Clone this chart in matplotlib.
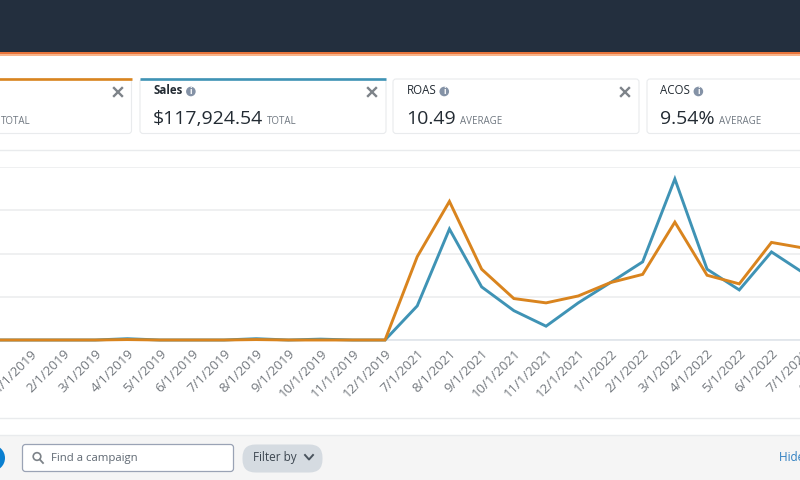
import matplotlib
matplotlib.use("Agg")
import matplotlib.pyplot as plt
from matplotlib.patches import FancyBboxPatch, Rectangle, Circle
from matplotlib.transforms import ScaledTranslation

plt.rcParams['font.family'] = ['Open Sans', 'DejaVu Sans']

# chart values, one gridline step = 1 unit (axis labels are cut off in the screenshot)
# first point sits just left of the picture, so it gets no label
months = ["", "1/1/2019", "2/1/2019", "3/1/2019", "4/1/2019", "5/1/2019", "6/1/2019",
          "7/1/2019", "8/1/2019", "9/1/2019", "10/1/2019", "11/1/2019", "12/1/2019",
          "7/1/2021", "8/1/2021", "9/1/2021", "10/1/2021", "11/1/2021", "12/1/2021",
          "1/1/2022", "2/1/2022", "3/1/2022", "4/1/2022", "5/1/2022", "6/1/2022", "7/1/2022", "8/1/2022"]
spend = [0, 0, 0, 0, 0.01, 0, 0, 0, 0.01, 0, 0, 0, 0,
         1.93, 3.21, 1.64, 0.96, 0.86, 1.02, 1.33, 1.52, 2.73, 1.50, 1.30, 2.26, 2.13]
sales = [0, 0, 0, 0, 0.03, 0, 0, 0, 0.03, 0, 0.02, 0, 0,
         0.79, 2.57, 1.23, 0.68, 0.32, 0.86, 1.33, 1.81, 3.73, 1.64, 1.16, 2.04, 1.55]
grid_steps = [0, 1, 2, 3, 4]

cards = [("Sales", "$117,924.54", "TOTAL", 140, 246, "#3f93b5"),
         ("ROAS", "10.49", "AVERAGE", 393, 246, None),
         ("ACOS", "9.54%", "AVERAGE", 647, 246, None)]

ORANGE = "#d9841e"
BLUE = "#3f93b5"
DARK = "#232b33"
GRAY = "#6f7780"

fig = plt.figure(figsize=(8, 4.8), dpi=100, facecolor="white")

# page furniture drawn in pixel coordinates
bg = fig.add_axes([0, 0, 1, 1])
bg.set_xlim(0, 800)
bg.set_ylim(480, 0)
bg.axis("off")

bg.add_patch(Rectangle((0, 0), 800, 52, color="#232f3e", lw=0))
bg.add_patch(Rectangle((0, 52), 800, 1.5, color="#e8743b", lw=0))
bg.add_patch(Rectangle((0, 53.5), 800, 2, color="#f8b48a", lw=0))
bg.add_patch(Rectangle((0, 435), 800, 45, color="#f5f5f5", lw=0))
bg.plot([0, 800], [149.5, 149.5], color="#e9ebed", lw=1)
bg.plot([0, 800], [417.5, 417.5], color="#e9ebed", lw=1)
bg.plot([0, 800], [435, 435], color="#e9ebed", lw=1)


def card(x, w, top=None):
    bg.add_patch(FancyBboxPatch((x, 79), w, 54.5, boxstyle="round,pad=0,rounding_size=3",
                                fc="white", ec="#e9ebed", lw=0.8))
    if top:
        bg.plot([x, x + w], [78.5, 78.5], color=top, lw=1.9, solid_capstyle="butt")


def close_mark(x):
    bg.plot([x - 4, x + 4], [88, 96], color="#7d8389", lw=1.7)
    bg.plot([x - 4, x + 4], [96, 88], color="#7d8389", lw=1.7)


# first card is cut off by the left edge
card(-30, 161.5, ORANGE)
close_mark(118)
bg.text(1, 122, "TOTAL", fontsize=7, color=GRAY, va="center")

for name, value, note, x, w, top in cards:
    card(x, w, top)
    if x + 232 < 800 and name != "ACOS":
        close_mark(x + 232)
    t = bg.text(x + 13.5, 90.5, name, fontsize=8.3, color=DARK, va="center",
                fontweight="bold" if top else "normal")
    tw = t.get_window_extent(fig.canvas.get_renderer()).width
    bg.add_patch(Circle((x + 13.5 + tw + 8, 91.5), 4.8, color="#8492a6", lw=0))
    bg.text(x + 13.5 + tw + 8, 91.5, "i", fontsize=6, color="white", ha="center", va="center",
            fontweight="bold")
    v = bg.text(x + 13, 119, value, fontsize=14, color=DARK, va="center")
    vw = v.get_window_extent(fig.canvas.get_renderer()).width
    bg.text(x + 13 + vw + 4, 122, note, fontsize=7, color=GRAY, va="center")

# bottom toolbar
bg.add_patch(Circle((-8, 458), 13, color="#0a7fd0", lw=0))
bg.add_patch(FancyBboxPatch((22.5, 444.5), 211, 27, boxstyle="round,pad=0,rounding_size=3",
                            fc="white", ec="#9aa3b5", lw=0.9))
bg.add_patch(Circle((37, 456.5), 3.8, fc="none", ec="#7d8389", lw=1.2))
bg.plot([39.8, 43], [459.5, 463], color="#7d8389", lw=1.3)
bg.text(51, 458, "Find a campaign", fontsize=8.2, color="#5f6872", va="center")
bg.add_patch(FancyBboxPatch((242.5, 444.5), 80, 28, boxstyle="round,pad=0,rounding_size=13",
                            fc="#d5dbe1", ec="none"))
bg.text(253, 457.5, "Filter by", fontsize=8.5, color="#3c4650", va="center")
bg.plot([305, 309, 313], [455, 459.5, 455], color="#4a545e", lw=1.4)
bg.text(779, 457.5, "Hide chart", fontsize=8.5, color="#2f7fc1", va="center")

# chart axes run past the figure on both sides so the lines and labels get cut at the edges
ax = fig.add_axes([-0.1, 140 / 480, 1.2, 172.7 / 480])
ax.patch.set_alpha(0)
xs = list(range(len(spend)))
ax.plot(xs, sales, color=BLUE, lw=2.1, clip_on=False, zorder=3, solid_joinstyle="miter")
ax.plot(xs, spend, color=ORANGE, lw=2.1, clip_on=False, zorder=4, solid_joinstyle="miter")
ax.set_xlim(-2.44, 27.37)
ax.set_ylim(0, 4)
ax.set_yticks(grid_steps)
ax.set_yticklabels([])
ax.set_xticks(range(len(months)))
ax.set_xticklabels(months, rotation=45, ha="right", va="top", rotation_mode="anchor",
                   fontsize=9.5, color="#72777d")
# labels sit a little left of their tick in the screenshot
nudge = ScaledTranslation(-2 / 100, 0, fig.dpi_scale_trans)
for lab in ax.get_xticklabels():
    lab.set_transform(lab.get_transform() + nudge)
ax.tick_params(axis="both", length=0)
ax.tick_params(axis="x", pad=5)
ax.grid(axis="y", color="#eceeef", lw=1.2)
ax.set_axisbelow(True)
for side in ["top", "left", "right"]:
    ax.spines[side].set_visible(False)
ax.spines["bottom"].set_color("#dfe4ea")
ax.spines["bottom"].set_linewidth(1.2)

fig.savefig("out.png", dpi=100)
